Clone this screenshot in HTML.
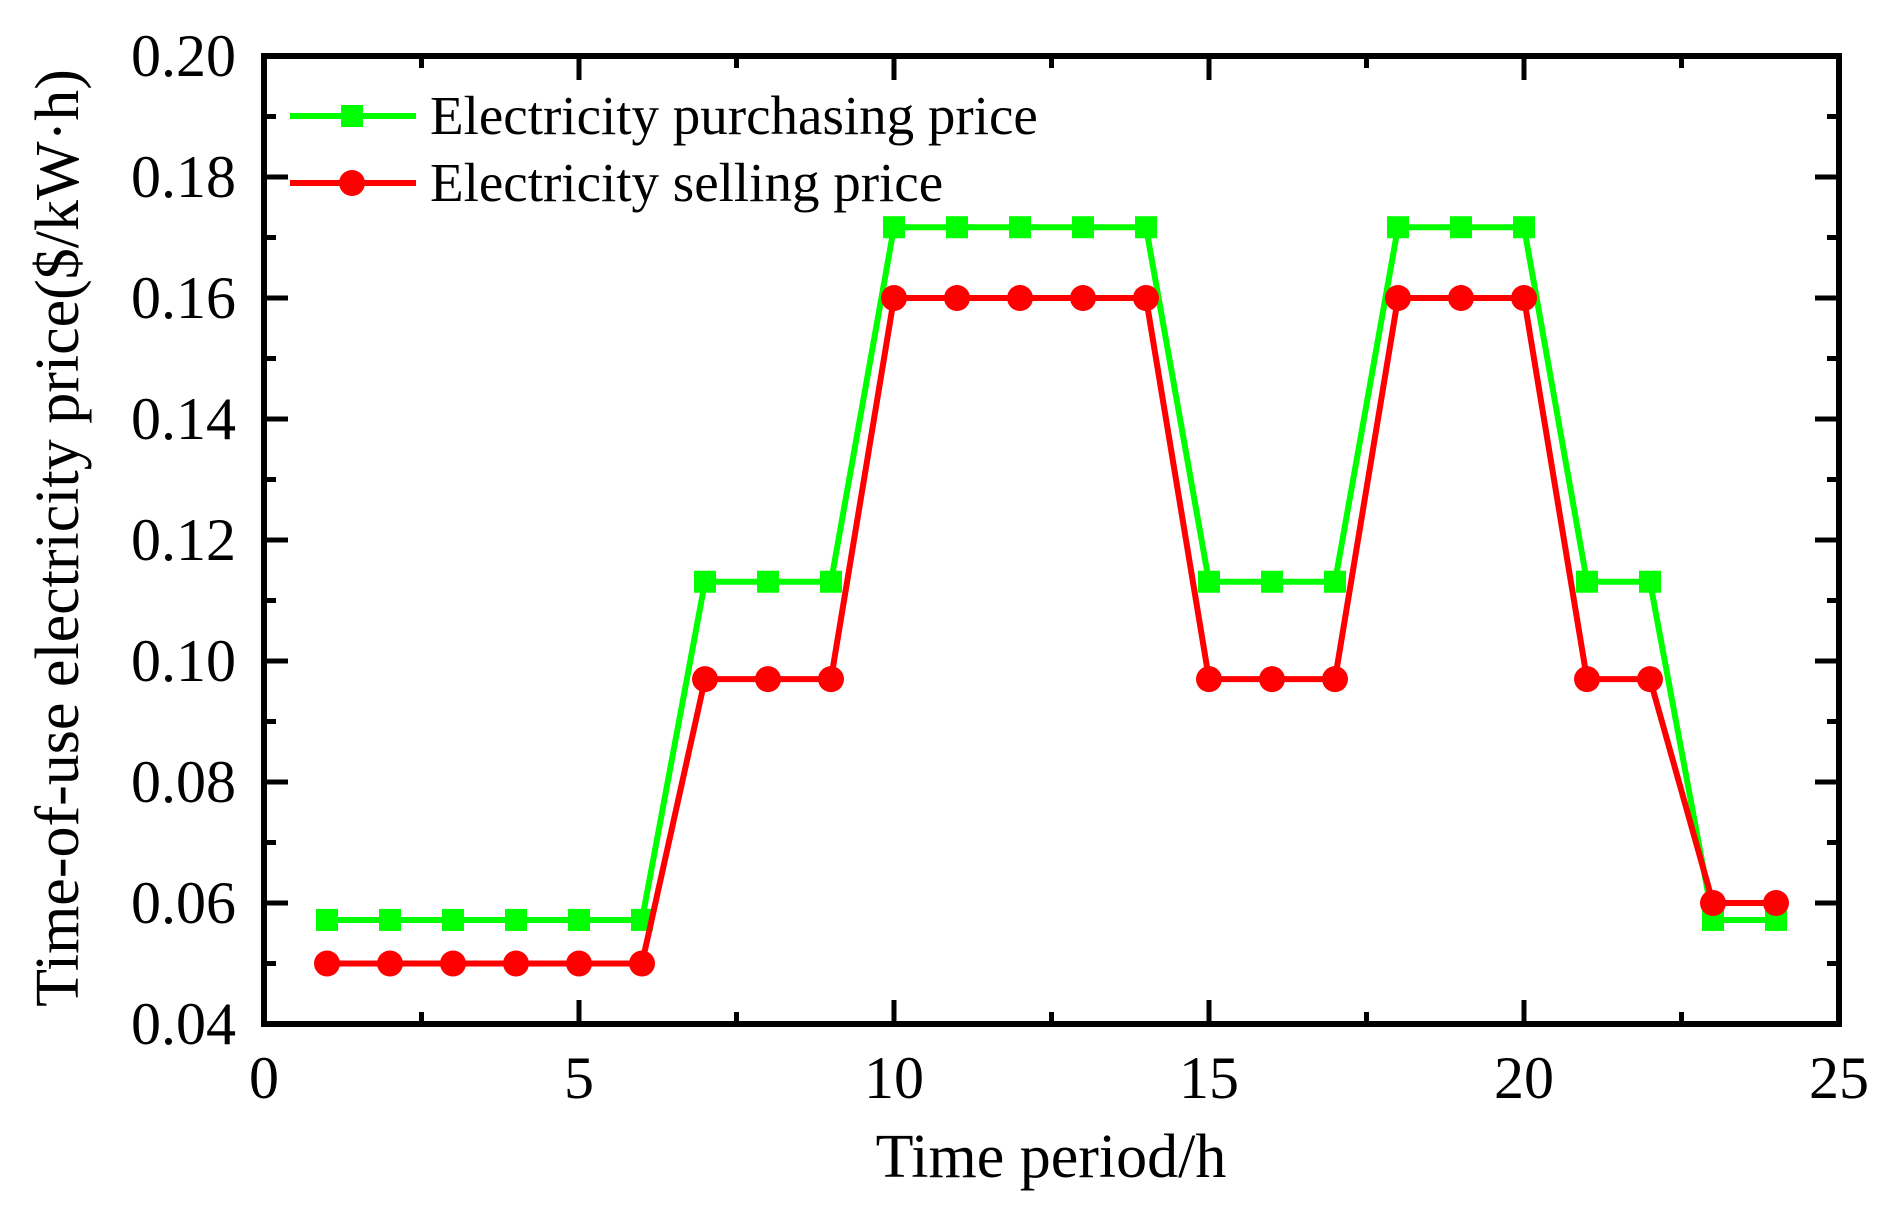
<!DOCTYPE html>
<html><head><meta charset="utf-8"><style>html,body{margin:0;padding:0;background:#fff}svg{display:block}</style></head>
<body>
<svg width="1892" height="1218" viewBox="0 0 1892 1218" xmlns="http://www.w3.org/2000/svg" font-family="Liberation Serif, serif">
<g id="ticks" stroke="#000" stroke-width="5"></g>
<g id="series"></g>
<rect x="264" y="56" width="1575" height="968" fill="none" stroke="#000" stroke-width="6"/>
<g id="labels" font-size="60" fill="#000"></g>
<text x="1051" y="1177" font-size="62" text-anchor="middle">Time period/h</text>
<text transform="translate(78,538) rotate(-90)" font-size="62" text-anchor="middle">Time-of-use electricity price($/kW·h)</text>
<g>
<line x1="290" y1="116" x2="416" y2="116" stroke="#00ff00" stroke-width="6"/>
<rect x="341" y="105" width="22" height="22" fill="#00ff00"/>
<line x1="290" y1="183" x2="416" y2="183" stroke="#ff0000" stroke-width="6"/>
<circle cx="352" cy="183" r="13" fill="#ff0000"/>
<text x="430" y="134" font-size="55">Electricity purchasing price</text>
<text x="430" y="201" font-size="55">Electricity selling price</text>
</g>
<script>
var X=function(v){return 264+v*63},Y=function(v){return 1024-(v-0.04)*6050};
var ns="http://www.w3.org/2000/svg";
function el(p,t,a,txt){var e=document.createElementNS(ns,t);for(var k in a)e.setAttribute(k,a[k]);if(txt!=null)e.textContent=txt;p.appendChild(e);return e;}
var tg=document.getElementById('ticks'),lg=document.getElementById('labels'),sg=document.getElementById('series');
for(var i=0;i<=10;i++){var v=i*2.5,x=X(v),L=(i%2==0)?24:12;
 el(tg,'line',{x1:x,y1:1024,x2:x,y2:1024-L});el(tg,'line',{x1:x,y1:56,x2:x,y2:56+L});
 if(i%2==0)el(lg,'text',{x:x,y:1098,'text-anchor':'middle'},String(v));}
for(var i=0;i<=16;i++){var v=0.04+i*0.01,y=Y(v),L=(i%2==0)?24:12;
 el(tg,'line',{x1:264,y1:y,x2:264+L,y2:y});el(tg,'line',{x1:1839,y1:y,x2:1839-L,y2:y});
 if(i%2==0)el(lg,'text',{x:236,y:y+20,'text-anchor':'end'},v.toFixed(2));}
var g=[.0572,.0572,.0572,.0572,.0572,.0572,.1131,.1131,.1131,.1717,.1717,.1717,.1717,.1717,.1131,.1131,.1131,.1717,.1717,.1717,.1131,.1131,.0572,.0572];
var r=[.05,.05,.05,.05,.05,.05,.097,.097,.097,.16,.16,.16,.16,.16,.097,.097,.097,.16,.16,.16,.097,.097,.06,.06];
function draw(d,c,sq){var pts=d.map(function(v,i){return X(i+1)+','+Y(v)}).join(' ');
 el(sg,'polyline',{points:pts,fill:'none',stroke:c,'stroke-width':6,'stroke-linejoin':'round'});
 d.forEach(function(v,i){if(sq)el(sg,'rect',{x:X(i+1)-11,y:Y(v)-11,width:22,height:22,fill:c});else el(sg,'circle',{cx:X(i+1),cy:Y(v),r:13,fill:c});});}
draw(g,'#00ff00',true);draw(r,'#ff0000',false);
</script>
</svg>
</body></html>
